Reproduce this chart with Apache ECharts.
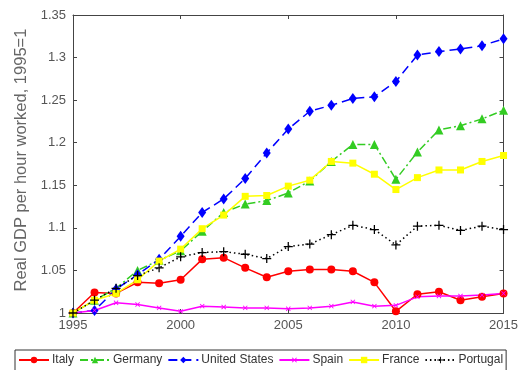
<!DOCTYPE html>
<html>
<head>
<meta charset="utf-8">
<script src="https://cdn.jsdelivr.net/npm/echarts@6/dist/echarts.min.js"></script>
<style>
html,body{margin:0;padding:0;background:#fff;}
#c{width:521px;height:370px;}
</style>
</head>
<body>
<div id="c"></div>
<script>
const years = [1995,1996,1997,1998,1999,2000,2001,2002,2003,2004,2005,2006,2007,2008,2009,2010,2011,2012,2013,2014,2015];
const italy    = [1.000,1.024,1.023,1.036,1.035,1.039,1.063,1.065,1.053,1.042,1.049,1.051,1.051,1.049,1.036,1.002,1.022,1.025,1.015,1.019,1.023];
const germany  = [1.000,1.015,1.029,1.050,1.062,1.073,1.096,1.118,1.128,1.132,1.141,1.155,1.178,1.198,1.198,1.157,1.189,1.215,1.220,1.228,1.238];
const usa      = [1.000,1.003,1.028,1.045,1.063,1.090,1.118,1.134,1.158,1.188,1.216,1.237,1.244,1.252,1.254,1.272,1.303,1.307,1.310,1.314,1.322];
const spain    = [1.000,1.003,1.012,1.010,1.006,1.002,1.008,1.007,1.006,1.006,1.005,1.006,1.008,1.013,1.008,1.009,1.019,1.020,1.020,1.021,1.023];
const france   = [1.000,1.015,1.023,1.039,1.061,1.075,1.099,1.115,1.137,1.138,1.149,1.156,1.178,1.176,1.163,1.145,1.159,1.168,1.168,1.178,1.185];
const portugal = [1.000,1.015,1.029,1.044,1.053,1.066,1.071,1.072,1.069,1.064,1.078,1.081,1.092,1.103,1.098,1.080,1.102,1.103,1.097,1.102,1.098];
const seriesNames = ['Italy','Germany','United States','Spain','France','Portugal'];
const yTicks = [1,1.05,1.1,1.15,1.2,1.25,1.3,1.35];

const PLUS = 'path://M4.3,0H5.7V4.3H10V5.7H5.7V10H4.3V5.7H0V4.3H4.3Z';
const pair = arr => years.map((y,i)=>[y,arr[i]]);

const chart = echarts.init(document.getElementById('c'), null, {renderer:'canvas'});
const axisCol = '#444';
const labelCol = '#555';
const font = 'Liberation Sans, Arial, sans-serif';

function mk(name, data, color, symbol, size, lineType, extra){
  return Object.assign({
    name, type:'line', data:pair(data), symbol, symbolSize:size,
    showSymbol:true, animation:false,
    lineStyle:{color, width:1.5, type:lineType},
    itemStyle:{color, borderColor:color, borderWidth:0},
    xAxisIndex:0, yAxisIndex:0, z:2
  }, extra||{});
}

chart.setOption({
  backgroundColor:'#fff',
  animation:false,
  textStyle:{fontFamily:font},
  grid:{left:73, right:11, top:15, bottom:57, containLabel:false},
  legend:{
    left:15, top:350,
    orient:'horizontal',
    data:seriesNames,
    borderColor:'#333', borderWidth:1, borderRadius:0,
    padding:[4,3,8,3], itemGap:5, itemWidth:30, itemHeight:8,
    textStyle:{fontSize:12, color:'#333', fontFamily:font, padding:[0,0,0,-2]}
  },
  xAxis:[{
    type:'value', min:1995, max:2015, interval:5,
    axisLine:{show:true, lineStyle:{color:axisCol, width:1}},
    axisTick:{show:true, inside:true, length:4, lineStyle:{color:axisCol}},
    axisLabel:{color:labelCol, fontSize:13, margin:6, fontFamily:font,
      formatter:v=>String(v)},
    splitLine:{show:false}
  },{
    type:'value', position:'top', min:1995, max:2015, interval:5,
    axisLine:{show:true, lineStyle:{color:axisCol, width:1}},
    axisTick:{show:true, inside:true, length:4, lineStyle:{color:axisCol}},
    axisLabel:{show:false}, splitLine:{show:false}
  }],
  yAxis:[{
    type:'value', min:1, max:1.35, interval:0.05,
    name:'Real GDP per hour worked, 1995=1', nameLocation:'middle', nameGap:31,
    nameTextStyle:{color:'#666', fontSize:16.5, fontFamily:font, padding:[0,0,0,8]},
    axisLine:{show:true, lineStyle:{color:axisCol, width:1}},
    axisTick:{show:true, inside:true, length:4, lineStyle:{color:axisCol}},
    axisLabel:{color:labelCol, fontSize:13, margin:7, fontFamily:font,
      formatter:v=>String(+v.toFixed(2))},
    splitLine:{show:false}
  },{
    type:'value', position:'right', min:1, max:1.35, interval:0.05,
    axisLine:{show:true, lineStyle:{color:axisCol, width:1}},
    axisTick:{show:true, inside:true, length:4, lineStyle:{color:axisCol}},
    axisLabel:{show:false}, splitLine:{show:false}
  }],
  series:[
    mk('Italy', italy, '#ff0000', 'circle', 8, 'solid'),
    mk('Germany', germany, '#33cc22', 'triangle', 9, [8,3,2,3]),
    mk('United States', usa, '#0000ff', 'diamond', [8,11], [9,5]),
    mk('Spain', spain, '#ff00ff', PLUS, 6, 'solid', {symbolRotate:45}),
    mk('France', france, '#ffff00', 'rect', 7, 'solid'),
    mk('Portugal', portugal, '#000000', PLUS, 9, [1.5,3])
  ]
});
</script>
</body>
</html>
